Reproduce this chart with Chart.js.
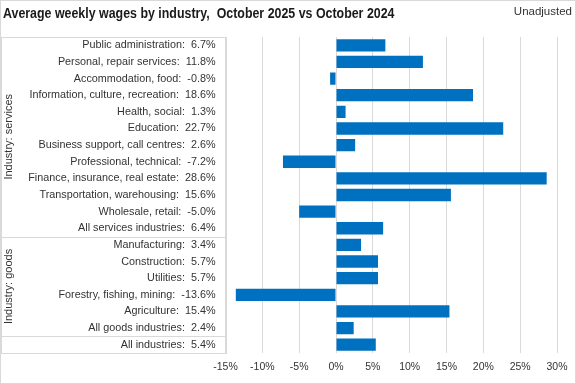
<!DOCTYPE html>
<html>
<head>
<meta charset="utf-8">
<script src="https://cdn.jsdelivr.net/npm/chart.js@4"></script>
<style>
  html, body { margin: 0; padding: 0; background: #fff; }
  #wrap { width: 576px; height: 384px; position: relative; }
</style>
</head>
<body>
<div id="wrap"><canvas id="wages"></canvas></div>
<script>
// data
categories = [
    'Public administration',
    'Personal, repair services',
    'Accommodation, food',
    'Information, culture, recreation',
    'Health, social',
    'Education',
    'Business support, call centres',
    'Professional, technical',
    'Finance, insurance, real estate',
    'Transportation, warehousing',
    'Wholesale, retail',
    'All services industries',
    'Manufacturing',
    'Construction',
    'Utilities',
    'Forestry, fishing, mining',
    'Agriculture',
    'All goods industries',
    'All industries'
]
change_pct = [6.7, 11.8, -0.8, 18.6, 1.3, 22.7, 2.6, -7.2, 28.6, 15.6, -5.0, 6.4,
              3.4, 5.7, 5.7, -13.6, 15.4, 2.4, 5.4]

// groups on the left side: label, first row, last row
group_names = ['Industry: services', 'Industry: goods']
group_first = [0, 12]
group_last = [11, 17]

x_ticks = [-15, -10, -5, 0, 5, 10, 15, 20, 25, 30]

title_text = 'Average weekly wages by industry,  October 2025 vs October 2024'
note_text = 'Unadjusted'

font_main = "'Liberation Sans', Arial, sans-serif"
line_grey = '#d9d9d9'
text_col = '#333333'

labels = categories.map((c, i) => c + ':  ' + change_pct[i].toFixed(1) + '%')

// draws the title, the label box with group lines and the rotated group names
const boxPlugin = {
    id: 'boxPlugin',
    afterDraw(chart) {
        const ctx = chart.ctx
        const area = chart.chartArea
        const y = chart.scales.y
        const rowH = (area.bottom - area.top) / categories.length

        ctx.save()
        ctx.fillStyle = text_col
        ctx.textBaseline = 'middle'

        // title is narrow in the original, squeeze it a bit
        ctx.save()
        ctx.translate(3, 14)
        ctx.scale(0.8, 1)
        ctx.font = "bold 15.5px " + font_main
        ctx.fillStyle = '#1a1a1a'
        ctx.textAlign = 'left'
        ctx.fillText(title_text, 0, 0)
        ctx.restore()

        ctx.font = "11.5px " + font_main
        ctx.textAlign = 'right'
        ctx.fillText(note_text, 572, 12)

        // outer frame of the chart
        ctx.strokeStyle = line_grey
        ctx.lineWidth = 1
        ctx.strokeRect(0.5, 0.5, 575, 383)

        // label box
        ctx.strokeRect(1.5, Math.round(area.top) + 0.5, Math.round(area.left) - 1, Math.round(area.bottom - area.top))
        for (let g = 0; g < group_names.length; g++) {
            let yy = Math.round(area.top + (group_last[g] + 1) * rowH) + 0.5
            ctx.beginPath()
            ctx.moveTo(1.5, yy)
            ctx.lineTo(area.left, yy)
            ctx.stroke()

            let mid = (y.getPixelForValue(group_first[g]) + y.getPixelForValue(group_last[g])) / 2
            ctx.save()
            ctx.translate(8.5, mid)
            ctx.rotate(-Math.PI / 2)
            ctx.textAlign = 'center'
            ctx.font = "11px " + font_main
            ctx.fillText(group_names[g], 0, 0)
            ctx.restore()
        }
        ctx.restore()
    }
}

var ctx = document.getElementById('wages').getContext('2d')
myChart = new Chart(ctx, {
    type: 'bar',
    data: {
        labels: labels,
        datasets: [{
            data: change_pct,
            backgroundColor: '#0070c0',
            borderWidth: 0,
            barPercentage: 0.74,
            categoryPercentage: 1.0
        }]
    },
    options: {
        indexAxis: 'y',
        responsive: true,
        maintainAspectRatio: false,
        animation: false,
        layout: { padding: { top: 37, right: 19, left: 0, bottom: 0 } },
        scales: {
            x: {
                min: -15,
                max: 30,
                afterBuildTicks: (scale) => { scale.ticks = x_ticks.map(v => ({ value: v })) },
                afterFit: (scale) => { scale.height = 31 },
                grid: { color: line_grey, drawTicks: false },
                border: { display: false },
                ticks: {
                    padding: 8,
                    color: text_col,
                    font: { family: font_main, size: 10.5 },
                    callback: (v) => v + '%'
                }
            },
            y: {
                afterFit: (scale) => { scale.width = 225.5 },
                grid: { display: false, drawTicks: false },
                border: { display: false },
                ticks: {
                    padding: 10,
                    autoSkip: false,
                    color: text_col,
                    font: { family: font_main, size: 10.8 }
                }
            }
        },
        plugins: {
            legend: { display: false },
            tooltip: { enabled: false }
        }
    },
    plugins: [boxPlugin]
})
</script>
</body>
</html>
